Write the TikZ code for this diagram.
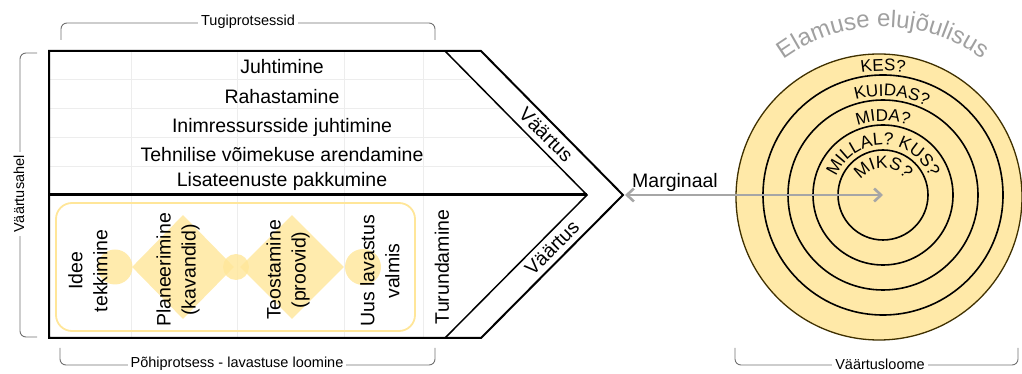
\documentclass[tikz,border=0pt]{standalone}
\usepackage{fontspec}
\setmainfont{Liberation Sans}
\usetikzlibrary{decorations.text, arrows.meta, shapes.geometric}

\definecolor{ringfill}{HTML}{FFE9A8}
\definecolor{ringedge}{HTML}{3F3000}
\definecolor{shapefill}{HTML}{FFE699}
\definecolor{bracketgray}{HTML}{707070}
\definecolor{arrowgray}{HTML}{A6A6A6}
\definecolor{gridgray}{HTML}{EDEDED}
\definecolor{titlegray}{HTML}{A0A0A0}

\begin{document}
\begin{tikzpicture}[x=1pt,y=1pt,
  main/.style={font=\fontsize{19.5}{25}\selectfont, inner sep=0pt},
  vert/.style={main, rotate=90, align=center},
  bracelabel/.style={font=\fontsize{14.5}{17}\selectfont, fill=white, inner sep=3pt},
  bracket/.style={draw=bracketgray, line width=0.9pt, rounded corners=6pt},
  blob/.style={fill=shapefill, fill opacity=0.8, draw=none, inner sep=0pt},
  ring/.style={draw=black, line width=1.6pt},
  arctext/.style={decorate, decoration={text along path, text align=center, text={#1}}},
]
\useasboundingbox (0,0) rectangle (1022,374);

% faint table grid behind the value chain
\begin{scope}
  \clip (49,323) -- (445,323) -- (587,179) -- (445,36) -- (49,36) -- cycle;
  \foreach \x in {131,237,344,423} \draw[gridgray, line width=0.6pt] (\x,36) -- (\x,323);
  \foreach \y in {295,266,237,208} \draw[gridgray, line width=0.6pt] (49,\y) -- (600,\y);
\end{scope}

% main process lane with its stages
\node[draw=shapefill, line width=1.8pt, rounded corners=16pt, minimum width=359pt,
      minimum height=128pt, inner sep=0pt] (lane) at (235.5,107) {};
\node[blob, circle, minimum size=35pt] (c1) at (115,107) {};
\node[blob, diamond, minimum width=102pt, minimum height=104pt] (d1) at (183,107) {};
\node[blob, circle, minimum size=26pt] (c2) at (236,107) {};
\node[blob, diamond, minimum width=104pt, minimum height=104pt] (d2) at (292,107) {};
\node[blob, circle, minimum size=36pt] (c3) at (363,107) {};

% chevron outline
\draw[line width=2pt] (49,323) -- (481,323) -- (623,179) -- (481,36) -- (49,36) -- cycle;
\draw[line width=1.5pt] (445,323) -- (587,179) -- (445,36);
\draw[line width=3pt] (49,179) -- (587,179);

% support processes
\node[main, anchor=base] (t1) at (282,300) {Juhtimine};
\node[main, anchor=base] (t2) at (282,270) {Rahastamine};
\node[main, anchor=base] (t3) at (282,241) {Inimressursside juhtimine};
\node[main, anchor=base] (t4) at (282,212) {Tehnilise võimekuse arendamine};
\node[main, anchor=base] (t5) at (282,187) {Lisateenuste pakkumine};

% primary process stages
\node[vert] (s1) at (88,103) {Idee\\tekkimine};
\node[vert] (s2) at (178,104) {Planeerimine\\(kavandid)};
\node[vert] (s3) at (288,104) {Teostamine\\(proovid)};
\node[vert] (s4) at (380,103) {Uus lavastus\\valmis};
\node[vert] (s5) at (442,107) {Turundamine};

% value labels in the chevron bands
\node[main, rotate=-45] (v1) at (546,239) {Väärtus};
\node[main, rotate=45] (v2) at (552,126) {Väärtus};

% value creation rings
\coordinate (core) at (883,179);
\coordinate (rim) at (879,177);
\fill[ringfill] (rim) circle[radius=143];
\draw[ringedge, line width=1.3pt] (rim) circle[radius=143];
\foreach \r in {120,95,70,45} \draw[ring] (core) circle[radius=\r];

\path[arctext={|\fontsize{17}{17}\selectfont|KES?}]
  (core) ++(150:124) arc[start angle=150, end angle=30, radius=124];
\path[arctext={|\fontsize{17}{17}\selectfont|KUIDAS?}]
  (core) ++(145:99) arc[start angle=145, end angle=25, radius=99];
\path[arctext={|\fontsize{17}{17}\selectfont|MIDA?}]
  (core) ++(160:74) arc[start angle=160, end angle=20, radius=74];
\path[arctext={|\fontsize{17.5}{17.5}\selectfont|MILLAL? KUS?}]
  (core) ++(178:50) arc[start angle=178, end angle=2, radius=50];
\path[arctext={|\fontsize{17.5}{17.5}\selectfont|MIKS?}]
  (core) ++(178:27) arc[start angle=178, end angle=2, radius=27];
\path[arctext={|\fontsize{24}{24}\selectfont\color{titlegray}|Elamuse elujõulisus}]
  (core) ++(150:168) arc[start angle=150, end angle=30, radius=168];

% margin arrow
\coordinate (tip) at (625,179);
\draw[arrowgray, line width=2.6pt,
      {Straight Barb[length=7pt, width=13pt]}-{Straight Barb[length=7pt, width=13pt]}]
  (tip) -- (core);
\node[main, anchor=base west] (marg) at (632,186) {Marginaal};

% brackets
\draw[bracket] (61,334) -- (61,351) -- (435,351) -- (435,334);
\node[bracelabel] (b1) at (248,352) {Tugiprotsessid};
\draw[bracket] (37,321) -- (20,321) -- (20,37) -- (37,37);
\node[bracelabel, rotate=90] (b2) at (19,180) {Väärtusahel};
\draw[bracket] (60,26) -- (60,9) -- (435,9) -- (435,26);
\node[bracelabel] (b3) at (237,10) {Põhiprotsess - lavastuse loomine};
\draw[bracket] (735,26) -- (735,9) -- (1018,9) -- (1018,26);
\node[bracelabel] (b4) at (880,10) {Väärtusloome};
\end{tikzpicture}
\end{document}
